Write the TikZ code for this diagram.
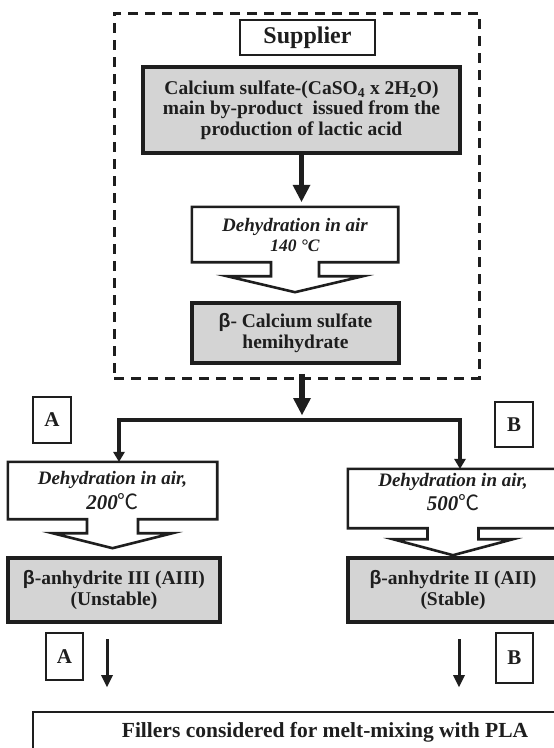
\documentclass[tikz,border=0pt]{standalone}
\usepackage{fontspec}
\setmainfont{Liberation Serif}
\newfontfamily\betafont{Liberation Sans}
\newfontfamily\cjk{Noto Sans CJK SC}
\usetikzlibrary{arrows.meta,calc}
\definecolor{boxgray}{RGB}{212,212,212}
\definecolor{ink}{RGB}{30,30,30}
\newcommand\blockarrow[5]{\draw[dline] (#1.north west) -- (#1.north east) -- (#1.south east) -- ($(#1.south)+(#2,0)$) -- ($(#1.south)+(#2,#4)$) -- ($(#1.south)+(#3,#4)$) -- ($(#1.south)+(0,#4+#5)$) -- ($(#1.south)+(-#3,#4)$) -- ($(#1.south)+(-#2,#4)$) -- ($(#1.south)+(-#2,0)$) -- (#1.south west) -- cycle;}
\begin{document}
\begin{tikzpicture}[x=1pt,y=-1pt,
  every node/.style={inner sep=0pt, align=center, text=ink},
  graybox/.style={draw=ink, fill=boxgray, line width=3.5pt, font=\bfseries\fontsize{19.5}{20.5}\selectfont},
  dbox/.style={font=\bfseries\itshape\fontsize{19}{20}\selectfont},
  dline/.style={draw=ink, line width=2.6pt, line join=miter},
  labelbox/.style={draw=ink, line width=1.6pt, font=\bfseries\fontsize{21}{22}\selectfont},
  frame/.style={draw=ink, line width=3pt, dash pattern=on 10pt off 7pt},
  bigarrow/.style={draw=ink, line width=5.5pt, -{Triangle[length=17pt,width=18pt,line width=0pt]}},
  branchline/.style={draw=ink, line width=3.6pt, line join=miter},
  smallarrow/.style={draw=ink, line width=3pt, -{Triangle[length=12pt,width=12pt,line width=0pt]}}
]
\useasboundingbox (0,0) rectangle (554,748);
\clip (0,0) rectangle (554,748);

\node[frame, minimum width=365pt, minimum height=365pt] (frame) at (296.5,195.5) {};
\node[labelbox, font=\bfseries\fontsize{24}{26}\selectfont, minimum width=135pt, minimum height=35pt] (supplier) at (307.5,37.5) {Supplier};
\node[graybox, minimum width=317pt, minimum height=86pt] (calc) at (301.5,110) {Calcium sulfate-(CaSO\textsubscript{4} x 2H\textsubscript{2}O)\\ main by-product\ \ issued from the\\ production of lactic acid};

\node[dbox, minimum width=206pt, minimum height=55pt] (d140) at (295,234.5) {Dehydration in air\\ {\fontsize{17.5}{19}\selectfont 140 °C}};
\blockarrow{d140}{24}{68}{14}{16}
\draw[bigarrow, shorten >=5pt] (calc.south) -- (calc.south |- d140.north);

\node[graybox, minimum width=207pt, minimum height=60pt] (hemi) at (295.5,333) {{\betafont β}- Calcium sulfate\\ hemihydrate};

\coordinate (split) at (302,420);
\coordinate (bl) at (119,420);
\coordinate (br) at (460,420);
\draw[bigarrow, shorten <=9pt, shorten >=5pt] (split |- hemi.south) -- (split);

\node[dbox, minimum width=209pt, minimum height=57pt] (d200) at (112.5,490.5) {Dehydration in air,\\[3pt] {\fontsize{21}{22}\selectfont 200{\cjk\mdseries\upshape ℃}}};
\blockarrow{d200}{25.5}{60}{14}{15}
\node[graybox, minimum width=212pt, minimum height=64pt] (aIII) at (114,590) {{\betafont β}-anhydrite III (AIII)\\ (Unstable)};

\node[minimum width=210pt, minimum height=59pt] (d500) at (453,498.5) {};
\node[dbox] (t500) at (453,492) {Dehydration in air,\\[3pt] {\fontsize{21}{22}\selectfont 500{\cjk\mdseries\upshape ℃}}};
\blockarrow{d500}{25.5}{60}{11}{16}
\node[graybox, minimum width=210pt, minimum height=64pt] (aII) at (453,590) {{\betafont β}-anhydrite II (AII)\\ (Stable)};

\draw[branchline, {Triangle[length=10pt,width=12pt,line width=0pt]}-{Triangle[length=10pt,width=12pt,line width=0pt]}] (bl |- d200.north) -- (bl) -- (br) -- (br |- d500.north);

\node[labelbox, minimum width=38pt, minimum height=46pt] (la1) at (52,420) {A};
\node[labelbox, minimum width=38pt, minimum height=45pt] (lb1) at (514,424.5) {B};
\node[labelbox, minimum width=37pt, minimum height=47pt] (la2) at (64.5,656.5) {A};
\node[labelbox, minimum width=37pt, minimum height=50pt] (lb2) at (514.5,658) {B};

\node[draw=ink, line width=1.6pt, minimum width=584pt, minimum height=40pt, font=\bfseries\fontsize{21.5}{23}\selectfont] (fillers) at (325,732) {Fillers considered for melt-mixing with PLA};

\coordinate (a1s) at (107,639);
\coordinate (a1e) at (107,687);
\coordinate (b1s) at (459,639);
\coordinate (b1e) at (459,687);
\draw[smallarrow] (a1s) -- (a1e);
\draw[smallarrow] (b1s) -- (b1e);
\end{tikzpicture}
\end{document}
